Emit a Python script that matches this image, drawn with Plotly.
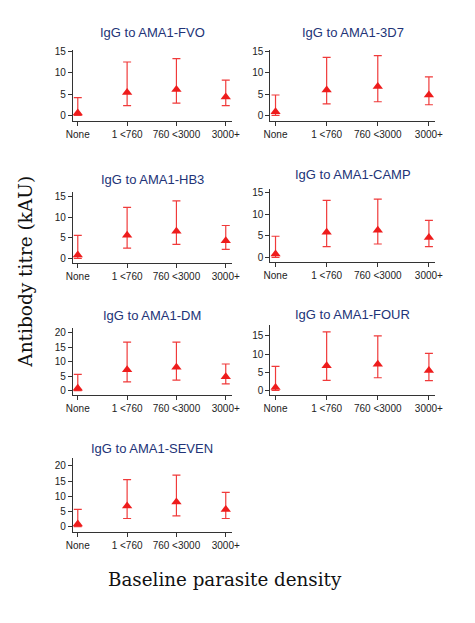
import plotly.graph_objects as go

categories = ["None", "1 <760", "760 <3000", "3000+"]
antigens = ["FVO", "3D7", "HB3", "CAMP", "DM", "FOUR", "SEVEN"]

# geometric mean, lower and upper 95% CI (kAU)
fvo_mid = [0.55, 5.4, 6.1, 4.35]
fvo_lo = [0.0, 2.3, 2.9, 2.3]
fvo_hi = [4.2, 12.6, 13.4, 8.3]

d3d7_mid = [0.86, 6.0, 6.8, 4.8]
d3d7_lo = [0.0, 2.7, 3.2, 2.5]
d3d7_hi = [4.8, 13.7, 14.1, 9.1]

hb3_mid = [0.8, 5.6, 6.6, 4.3]
hb3_lo = [0.0, 2.5, 3.4, 2.2]
hb3_hi = [5.6, 12.4, 14.0, 8.0]

camp_mid = [0.77, 5.85, 6.3, 4.6]
camp_lo = [0.0, 2.5, 3.1, 2.5]
camp_hi = [4.9, 13.2, 13.5, 8.6]

dm_mid = [0.8, 7.2, 8.1, 4.8]
dm_lo = [0.0, 3.0, 3.6, 2.3]
dm_hi = [5.6, 16.8, 16.8, 9.2]

four_mid = [0.8, 6.8, 7.2, 5.5]
four_lo = [0.0, 2.8, 3.5, 2.7]
four_hi = [6.6, 16.1, 15.0, 10.2]

seven_mid = [0.9, 6.8, 8.1, 5.7]
seven_lo = [0.0, 2.7, 3.6, 2.7]
seven_hi = [5.7, 15.5, 17.0, 11.3]

series = [
    (fvo_mid, fvo_lo, fvo_hi),
    (d3d7_mid, d3d7_lo, d3d7_hi),
    (hb3_mid, hb3_lo, hb3_hi),
    (camp_mid, camp_lo, camp_hi),
    (dm_mid, dm_lo, dm_hi),
    (four_mid, four_lo, four_hi),
    (seven_mid, seven_lo, seven_hi),
]

y_ticks = [
    [0, 5, 10, 15], [0, 5, 10, 15], [0, 5, 10, 15], [0, 5, 10, 15],
    [0, 5, 10, 15, 20], [0, 5, 10, 15], [0, 5, 10, 15, 20],
]

W, H = 475, 623
# pixel layout: (x_left, x_right, y_top, y_bottom, ymin, ymax, title_y)
panels = [
    (68, 232, 47, 119, -1.4, 15.5, 30),
    (272, 442, 47, 119, -1.4, 15.5, 30),
    (68, 232, 190, 262, -1.2, 16.2, 178),
    (272, 442, 187, 261, -1.15, 15.9, 173),
    (68, 232, 327, 395, -1.7, 21.7, 315),
    (272, 442, 324, 395, -1.36, 18.0, 314),
    (68, 232, 458, 532, -1.6, 22.6, 448),
]

fig = go.Figure()
red = "#ee1c1c"
axis_col = "#333333"
annotations = []
xs = list(range(len(categories)))

for i, ((mid, lo, hi), (x0, x1, y0, y1, ymin, ymax, ty)) in enumerate(zip(series, panels)):
    n = i + 1
    xa = "x" if n == 1 else f"x{n}"
    ya = "y" if n == 1 else f"y{n}"
    fig.add_trace(go.Scatter(
        x=xs, y=mid, mode="markers", xaxis=xa, yaxis=ya,
        marker=dict(symbol="triangle-up", size=9, color=red),
        error_y=dict(type="data", symmetric=False,
                     array=[h - m for h, m in zip(hi, mid)],
                     arrayminus=[m - l for m, l in zip(mid, lo)],
                     color="#f03a3a", thickness=1.2, width=4),
        showlegend=False, hoverinfo="skip",
    ))
    xkey = "xaxis" if n == 1 else f"xaxis{n}"
    ykey = "yaxis" if n == 1 else f"yaxis{n}"
    fig.layout[xkey] = dict(
        domain=[x0 / W, x1 / W], anchor=ya, range=[-0.1, 3.12],
        tickvals=xs, ticktext=categories, showline=True, linecolor=axis_col,
        linewidth=1, ticks="outside", ticklen=4, tickcolor=axis_col,
        showgrid=False, zeroline=False,
        tickfont=dict(family="Liberation Sans Narrow, Arial", size=10, color="#222222"),
    )
    fig.layout[ykey] = dict(
        domain=[1 - y1 / H, 1 - y0 / H], anchor=xa, range=[ymin, ymax],
        tickvals=y_ticks[i], showline=True, linecolor=axis_col, linewidth=1,
        ticks="outside", ticklen=4, tickcolor=axis_col, showgrid=False,
        zeroline=False,
        tickfont=dict(family="Liberation Sans Narrow, Arial", size=10, color="#222222"),
    )
    annotations.append(dict(
        text=f"IgG to AMA1-{antigens[i]}", x=(x0 + x1) / 2 / W, y=1 - ty / H,
        xref="paper", yref="paper", showarrow=False, xanchor="center", yanchor="middle",
        font=dict(family="Liberation Sans, Arial", size=13, color="#223377"),
    ))

annotations.append(dict(
    text="Antibody titre (kAU)", x=19 / W, y=1 - 270 / H, xref="paper", yref="paper",
    showarrow=False, textangle=-90, xanchor="center", yanchor="middle",
    font=dict(family="DejaVu Serif, Liberation Serif", size=18.5, color="#111111"),
))
annotations.append(dict(
    text="Baseline parasite density", x=225 / W, y=1 - 580 / H, xref="paper", yref="paper",
    showarrow=False, xanchor="center", yanchor="middle",
    font=dict(family="DejaVu Serif, Liberation Serif", size=18.3, color="#111111"),
))

fig.update_layout(
    width=W, height=H, margin=dict(l=0, r=0, t=0, b=0),
    paper_bgcolor="white", plot_bgcolor="white",
    annotations=annotations,
)
fig.write_html(
    "out.html",
    config={"displayModeBar": False},
    post_script="document.body.style.margin='0';document.body.style.overflow='hidden';",
)
